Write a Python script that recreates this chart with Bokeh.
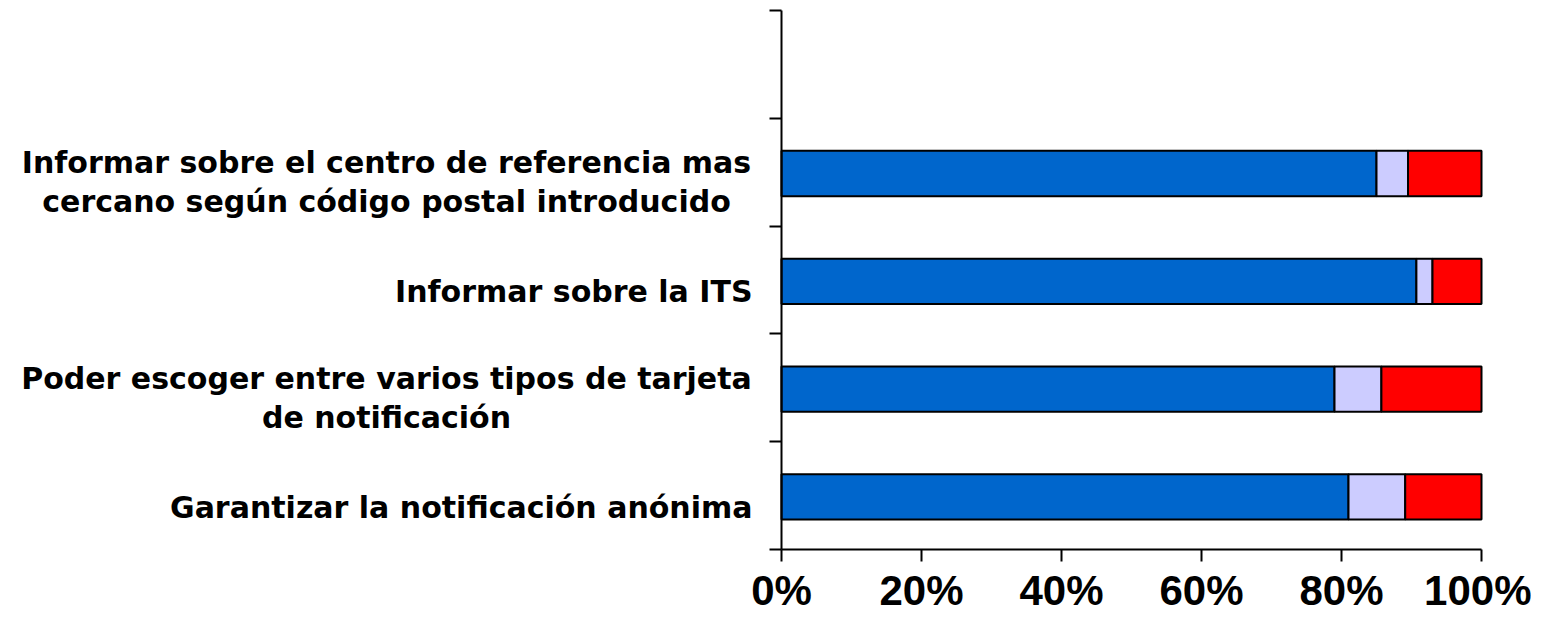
from bokeh.plotting import figure
from bokeh.models import Range1d, FixedTicker, LinearAxis, ColumnDataSource, PrintfTickFormatter
from bokeh.core.properties import value
from bokeh.embed import file_html
from bokeh.resources import INLINE

# ---- data (bottom to top) ----
categories = [
    ["Garantizar la notificación anónima"],
    ["Poder escoger entre varios tipos de tarjeta", "de notificación"],
    ["Informar sobre la ITS"],
    ["Informar sobre el centro de referencia mas", "cercano según código postal introducido"],
]
serie_si = [81.0, 79.0, 90.7, 85.0]
serie_ns = [8.1, 6.7, 2.3, 4.5]
serie_no = [10.9, 14.3, 7.0, 10.5]
x_ticks = [0, 20, 40, 60, 80, 100]
n_slots = 5  # top slot is empty

colors = ["#0066CC", "#CCCCFF", "#FF0000"]

# ---- layout (pixels on the canvas) ----
W, H = 1531, 616
AX_LEFT, AX_RIGHT, AX_TOP, AX_BOTTOM = 781, 1481, 10, 549
px_x = (AX_RIGHT - AX_LEFT) / 100.0
px_y = (AX_BOTTOM - AX_TOP) / n_slots

x_range = Range1d(-AX_LEFT / px_x, (W - AX_LEFT) / px_x)
y_range = Range1d(-(H - AX_BOTTOM) / px_y, n_slots + AX_TOP / px_y)

p = figure(width=W, height=H, output_backend="svg", toolbar_location=None,
           x_range=x_range, y_range=y_range,
           x_axis_location=None, y_axis_location=None, min_border=0)
p.outline_line_color = None
p.xgrid.visible = False
p.ygrid.visible = False
p.background_fill_color = "white"
p.border_fill_color = "white"

ys = [i + 0.5 - 0.012 for i in range(len(categories))]
src = ColumnDataSource(dict(y=ys, si=serie_si, ns=serie_ns, no=serie_no))
p.hbar_stack(["si", "ns", "no"], y="y", height=0.42, color=colors,
             line_color="black", line_width=2, source=src)

xaxis = LinearAxis(fixed_location=0, bounds=(0, 100),
                   ticker=FixedTicker(ticks=x_ticks),
                   formatter=PrintfTickFormatter(format="%d%%"))
yaxis = LinearAxis(fixed_location=0, bounds=(0, n_slots),
                   ticker=FixedTicker(ticks=list(range(n_slots + 1))))
yaxis.major_label_overrides = {t: "" for t in range(n_slots + 1)}
for ax in (xaxis, yaxis):
    ax.axis_line_color = "black"
    ax.axis_line_width = 2
    ax.major_tick_line_color = "black"
    ax.major_tick_line_width = 2
    ax.major_tick_out = 12
    ax.major_tick_in = 0
    ax.minor_tick_line_color = None
xaxis.major_label_text_font = "Liberation Sans"
xaxis.major_label_text_font_style = "bold"
xaxis.major_label_text_font_size = "42px"
xaxis.major_label_text_color = "black"
xaxis.major_label_standoff = 5
p.add_layout(xaxis, "below")
p.add_layout(yaxis, "left")

# ---- category labels ----
r_x, r_y, r_t = [], [], []
c_x, c_y, c_t = [], [], []
for i, lines in enumerate(categories):
    yc = i + 0.5
    if len(lines) == 1:
        r_x.append(-29 / px_x)
        r_y.append(yc - 11.6 / px_y)
        r_t.append(lines[0])
    else:
        for line, off in zip(lines, [-9.7, 29.5]):
            c_x.append(-395 / px_x)
            c_y.append(yc - off / px_y)
            c_t.append(line)

lab_style = dict(text_font=value("DejaVu Sans"), text_font_style="bold",
                 text_font_size="30px", text_color="black",
                 text_baseline="alphabetic")
p.text(x="x", y="y", text="t", text_align="right",
       source=ColumnDataSource(dict(x=r_x, y=r_y, t=r_t)), **lab_style)
p.text(x="x", y="y", text="t", text_align="center",
       source=ColumnDataSource(dict(x=c_x, y=c_y, t=c_t)), **lab_style)

open("out.html", "w").write(file_html(p, INLINE))
